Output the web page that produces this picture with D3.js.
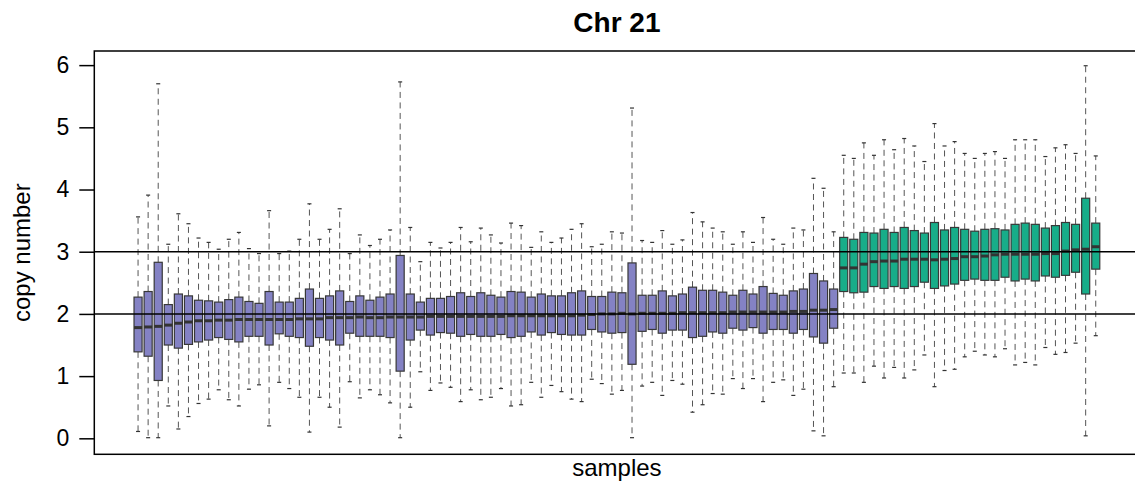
<!DOCTYPE html>
<html>
<head>
<meta charset="utf-8">
<script src="https://cdn.jsdelivr.net/npm/d3@7"></script>
<style>
  html, body { margin: 0; padding: 0; background: #fff; }
  svg { display: block; }
  text { font-family: "Liberation Sans", Arial, Helvetica, sans-serif; fill: #000; }
</style>
</head>
<body>
<svg id="chart" width="1135" height="486"></svg>
<script>
// Per-sample box statistics for chromosome 21 copy number
const lowWhisker = [
  0.11, 0.01, 0.01, 0.52, 0.15, 0.35, 0.56, 0.63, 0.78, 0.62,
  0.52, 0.79, 0.86, 0.20, 0.90, 0.80, 0.66, 0.10, 0.66, 0.50,
  0.18, 0.91, 0.65, 0.78, 0.70, 0.57, 0.01, 0.50, 1.07, 0.77,
  0.89, 0.82, 0.59, 0.78, 0.62, 0.66, 0.80, 0.52, 0.54, 0.90,
  0.66, 0.85, 0.75, 0.63, 0.59, 0.95, 0.88, 0.71, 0.77, 0.01,
  0.84, 0.90, 0.69, 0.93, 0.87, 0.42, 0.54, 0.72, 0.71, 0.96,
  0.80, 0.96, 0.59, 0.90, 0.94, 0.69, 0.79, 0.12, 0.04, 0.83,
  1.05, 1.05, 0.90, 1.16, 0.97, 1.14, 0.97, 1.10, 1.34, 0.83,
  1.09, 1.11, 1.31, 1.40, 1.34, 1.31, 1.44, 1.18, 1.22, 1.18,
  1.46, 1.35, 1.38, 1.53, 0.04, 1.65
];
const lowerQuartile = [
  1.39, 1.32, 0.93, 1.50, 1.45, 1.51, 1.55, 1.58, 1.62, 1.59,
  1.55, 1.64, 1.64, 1.50, 1.68, 1.64, 1.62, 1.48, 1.62, 1.58,
  1.50, 1.69, 1.64, 1.64, 1.64, 1.62, 1.08, 1.58, 1.74, 1.66,
  1.70, 1.69, 1.64, 1.67, 1.64, 1.64, 1.67, 1.62, 1.64, 1.71,
  1.66, 1.70, 1.67, 1.66, 1.66, 1.75, 1.71, 1.69, 1.70, 1.19,
  1.72, 1.75, 1.69, 1.74, 1.74, 1.62, 1.64, 1.71, 1.69, 1.77,
  1.74, 1.78, 1.69, 1.75, 1.75, 1.69, 1.75, 1.63, 1.53, 1.77,
  2.36, 2.34, 2.35, 2.44, 2.41, 2.44, 2.41, 2.44, 2.51, 2.41,
  2.45, 2.48, 2.54, 2.56, 2.54, 2.54, 2.59, 2.53, 2.56, 2.53,
  2.61, 2.59, 2.62, 2.67, 2.32, 2.72
];
const median = [
  1.78, 1.79, 1.80, 1.82, 1.85, 1.87, 1.89, 1.89, 1.90, 1.90,
  1.91, 1.91, 1.91, 1.91, 1.91, 1.91, 1.92, 1.92, 1.92, 1.94,
  1.94, 1.94, 1.95, 1.94, 1.94, 1.95, 1.95, 1.95, 1.95, 1.96,
  1.96, 1.96, 1.96, 1.96, 1.96, 1.96, 1.96, 1.97, 1.97, 1.97,
  1.97, 1.97, 1.97, 1.97, 1.98, 1.99, 2.00, 2.00, 2.01, 2.00,
  2.01, 2.01, 2.01, 2.01, 2.02, 2.02, 2.02, 2.02, 2.02, 2.03,
  2.03, 2.03, 2.03, 2.03, 2.03, 2.04, 2.04, 2.06, 2.06, 2.07,
  2.74, 2.74, 2.80, 2.84, 2.85, 2.85, 2.88, 2.88, 2.88, 2.87,
  2.88, 2.89, 2.92, 2.92, 2.93, 2.95, 2.96, 2.96, 2.96, 2.96,
  2.97, 2.97, 3.01, 3.03, 3.04, 3.08
];
const upperQuartile = [
  2.27, 2.36, 2.83, 2.15, 2.32, 2.29, 2.22, 2.21, 2.19, 2.23,
  2.27, 2.20, 2.17, 2.36, 2.19, 2.19, 2.25, 2.40, 2.25, 2.29,
  2.37, 2.20, 2.29, 2.22, 2.27, 2.32, 2.94, 2.32, 2.19, 2.25,
  2.25, 2.28, 2.34, 2.28, 2.34, 2.30, 2.27, 2.36, 2.35, 2.27,
  2.32, 2.29, 2.29, 2.34, 2.37, 2.28, 2.28, 2.35, 2.34, 2.82,
  2.30, 2.30, 2.37, 2.29, 2.32, 2.43, 2.38, 2.38, 2.35, 2.30,
  2.38, 2.32, 2.44, 2.33, 2.30, 2.37, 2.40, 2.65, 2.53, 2.40,
  3.23, 3.20, 3.31, 3.30, 3.36, 3.31, 3.39, 3.34, 3.30, 3.47,
  3.35, 3.39, 3.36, 3.33, 3.36, 3.37, 3.35, 3.44, 3.46, 3.44,
  3.38, 3.42, 3.47, 3.44, 3.86, 3.46
];
const highWhisker = [
  3.56, 3.91, 5.70, 3.12, 3.61, 3.45, 3.22, 3.15, 3.04, 3.20,
  3.31, 3.05, 2.97, 3.66, 2.97, 3.01, 3.20, 3.77, 3.20, 3.36,
  3.69, 2.97, 3.27, 3.10, 3.20, 3.35, 5.73, 3.39, 2.84, 3.15,
  3.06, 3.15, 3.39, 3.16, 3.38, 3.27, 3.14, 3.46, 3.42, 3.07,
  3.32, 3.15, 3.22, 3.36, 3.45, 3.08, 3.12, 3.32, 3.30, 5.31,
  3.18, 3.15, 3.34, 3.12, 3.19, 3.63, 3.48, 3.38, 3.32, 3.12,
  3.32, 3.15, 3.55, 3.20, 3.12, 3.38, 3.35, 4.18, 4.02, 3.32,
  4.55, 4.50, 4.75, 4.55, 4.80, 4.64, 4.82, 4.70, 4.45, 5.06,
  4.70, 4.77, 4.58, 4.50, 4.58, 4.61, 4.50, 4.80, 4.80, 4.80,
  4.53, 4.67, 4.72, 4.58, 5.99, 4.54
];
// Samples come in two consecutive groups
const groupSizes = [70, 26];
const groupColors = ["#8482c4", "#17ad89"];
const referenceLevels = [2, 3];
const yTicks = [0, 1, 2, 3, 4, 5, 6];

const title = "Chr 21";
const xLabel = "samples";
const yLabel = "copy number";

const n = median.length;
const groupOf = [];
groupSizes.forEach((size, g) => { for (let k = 0; k < size; k++) groupOf.push(g); });

const samples = d3.range(n).map(i => ({
  pos: i + 1,
  lo: lowWhisker[i], q1: lowerQuartile[i], med: median[i],
  q3: upperQuartile[i], hi: highWhisker[i], group: groupOf[i]
}));

const svg = d3.select("#chart");

const plot = { left: 94.3, right: 1139.5, top: 51, bottom: 454.3 };
const pad = 0.04 * n;
const x = d3.scaleLinear().domain([0.5 - pad, n + 0.5 + pad]).range([plot.left, plot.right]);
const y = d3.scaleLinear().domain([-0.257, 6.227]).range([plot.bottom, plot.top]);

const step = x(2) - x(1);
const boxW = 0.8 * step;
const stapleW = boxW * 0.5;

const g = svg.append("g");

// Whiskers (dashed) and staples
const wh = g.append("g").attr("class", "whiskers");
wh.selectAll("line.upper").data(samples).join("line")
  .attr("x1", d => x(d.pos)).attr("x2", d => x(d.pos))
  .attr("y1", d => y(d.q3)).attr("y2", d => y(d.hi))
  .attr("stroke", "#555").attr("stroke-width", 1).attr("stroke-dasharray", "6,4.5");
wh.selectAll("line.lower").data(samples).join("line")
  .attr("x1", d => x(d.pos)).attr("x2", d => x(d.pos))
  .attr("y1", d => y(d.q1)).attr("y2", d => y(d.lo))
  .attr("stroke", "#555").attr("stroke-width", 1).attr("stroke-dasharray", "6,4.5");
wh.selectAll("line.staple-hi").data(samples).join("line")
  .attr("x1", d => x(d.pos) - stapleW / 2).attr("x2", d => x(d.pos) + stapleW / 2)
  .attr("y1", d => y(d.hi)).attr("y2", d => y(d.hi))
  .attr("stroke", "#333").attr("stroke-width", 1.2);
wh.selectAll("line.staple-lo").data(samples).join("line")
  .attr("x1", d => x(d.pos) - stapleW / 2).attr("x2", d => x(d.pos) + stapleW / 2)
  .attr("y1", d => y(d.lo)).attr("y2", d => y(d.lo))
  .attr("stroke", "#333").attr("stroke-width", 1.2);

// Boxes
g.append("g").selectAll("rect").data(samples).join("rect")
  .attr("x", d => x(d.pos) - boxW / 2)
  .attr("width", boxW)
  .attr("y", d => y(d.q3))
  .attr("height", d => y(d.q1) - y(d.q3))
  .attr("fill", d => groupColors[d.group])
  .attr("stroke", "#383838").attr("stroke-width", 1.2);

// Medians
g.append("g").selectAll("line").data(samples).join("line")
  .attr("x1", d => x(d.pos) - boxW / 2).attr("x2", d => x(d.pos) + boxW / 2)
  .attr("y1", d => y(d.med)).attr("y2", d => y(d.med))
  .attr("stroke", "#333").attr("stroke-width", 3);

// Reference copy-number levels
g.append("g").selectAll("line").data(referenceLevels).join("line")
  .attr("x1", plot.left).attr("x2", plot.right)
  .attr("y1", d => y(d)).attr("y2", d => y(d))
  .attr("stroke", "#000").attr("stroke-width", 1.5);

// Plot frame
svg.append("rect")
  .attr("x", plot.left).attr("y", plot.top)
  .attr("width", plot.right - plot.left).attr("height", plot.bottom - plot.top)
  .attr("fill", "none").attr("stroke", "#000").attr("stroke-width", 1.5);

// Y axis
const yAxis = d3.axisLeft(y).tickValues(yTicks).tickSize(15).tickPadding(10).tickFormat(d3.format("d"));
const ay = svg.append("g").attr("transform", `translate(${plot.left},0)`).call(yAxis);
ay.select(".domain").remove();
ay.selectAll(".tick line").attr("stroke", "#000").attr("stroke-width", 1.5);
ay.selectAll(".tick text").style("font-size", "23px").attr("fill", "#000")
  .style("font-family", '"Liberation Sans", Arial, sans-serif');

// Titles
const cx = (plot.left + plot.right) / 2;
svg.append("text").attr("x", cx).attr("y", 32).attr("text-anchor", "middle")
  .style("font-size", "28px").style("font-weight", "bold").text(title);
svg.append("text").attr("x", cx).attr("y", 476).attr("text-anchor", "middle")
  .style("font-size", "24px").text(xLabel);
svg.append("text")
  .attr("transform", `translate(30,${(plot.top + plot.bottom) / 2}) rotate(-90)`)
  .attr("text-anchor", "middle")
  .style("font-size", "24px").text(yLabel);
</script>
</body>
</html>
